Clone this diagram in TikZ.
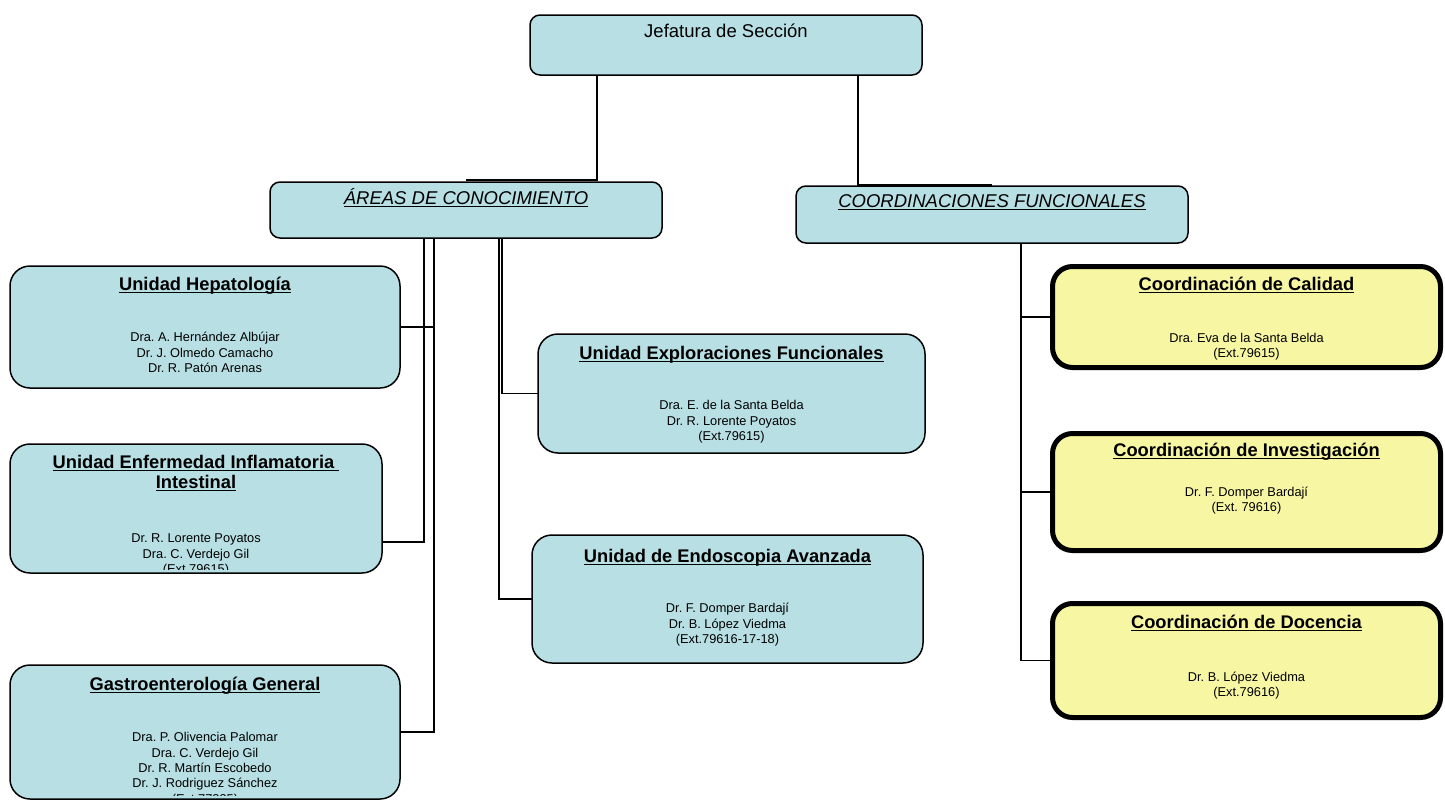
\documentclass[tikz,border=0pt]{standalone}
\usepackage{fontspec}
\setmainfont{Liberation Sans}
\usetikzlibrary{calc}
\frenchspacing
\definecolor{boxblue}{RGB}{184,224,228}
\definecolor{boxyellow}{RGB}{247,246,163}
\newcommand*{\undl}[1]
  {\setbox0\hbox{#1}\rlap{\rule[-2.8pt]{\wd0}{1.3pt}}\box0}
\newcommand*{\headfont}{\fontsize{18.5}{20.5}\selectfont}
\newcommand*{\titlefont}{\fontsize{18.3}{20.5}\selectfont\bfseries}
\newcommand*{\namefont}{\fontsize{12.8}{15.3}\selectfont}
\tikzset{
  headbox/.style={draw,line width=1.5pt,fill=boxblue,rounded corners=10pt,inner sep=0pt,outer sep=0pt},
  unitbox/.style={draw,line width=1.5pt,fill=boxblue,rounded corners=20pt,inner sep=0pt,outer sep=0pt},
  coordbox/.style={draw,line width=5pt,fill=boxyellow,rounded corners=20pt,inner sep=0pt,outer sep=0pt},
  headtext/.style={anchor=base,inner sep=0pt,font=\headfont},
  unittitle/.style={anchor=base,inner sep=0pt,font=\titlefont},
  names/.style={anchor=north,inner sep=0pt,align=center,font=\namefont},
  link/.style={line width=1.5pt}
}

\begin{document}
\begin{tikzpicture}[x=1pt,y=-1pt]
\useasboundingbox (0,0) rectangle (1445,803);
% top level
\node[headbox,minimum width=392pt,minimum height=60pt] (jef) at (726,45) {};
\node[headtext] (jeft) at ($(jef.north)+(0,22)$) {Jefatura de Sección};
\node[headbox,minimum width=392pt,minimum height=56pt] (areas) at (466,210) {};
\node[headtext,font=\headfont\itshape] (areast) at ($(areas.north)+(0,22)$) {\undl{ÁREAS DE CONOCIMIENTO}};
\node[headbox,minimum width=392pt,minimum height=57pt] (coord) at (992,214.5) {};
\node[headtext,font=\headfont\itshape] (coordt) at ($(coord.north)+(0,21)$) {\undl{COORDINACIONES FUNCIONALES}};
% areas de conocimiento
\node[unitbox,minimum width=390pt,minimum height=122pt] (hep) at (205,327) {};
\node[unittitle] (hept) at ($(hep.north)+(0,24)$) {\undl{Unidad Hepatología}};
\node[names] (hepn) at ($(hep.north)+(0,65)$) {\strut Dra. A. Hernández Albújar\\Dr. J. Olmedo Camacho\\Dr. R. Patón Arenas};
\node[unitbox,minimum width=372pt,minimum height=129pt] (enf) at (196,508.5) {};
\node[names,font=\titlefont] (enft) at ($(enf.north)+(0,9.6)$) {\strut\undl{Unidad Enfermedad Inflamatoria }\\\undl{Intestinal}};
\begin{scope}
\clip ($(enf.south west)+(0,-4)$) rectangle (enf.north east);
\node[names] (enfn) at ($(enf.north)+(0,88)$) {\strut Dr. R. Lorente Poyatos\\Dra. C. Verdejo Gil\\(Ext.79615)};
\end{scope}
\node[unitbox,minimum width=390pt,minimum height=134pt] (gas) at (205,732) {};
\node[unittitle] (gast) at ($(gas.north)+(0,25)$) {\undl{Gastroenterología General}};
\begin{scope}
\clip ($(gas.south west)+(0,-4)$) rectangle (gas.north east);
\node[names] (gasn) at ($(gas.north)+(0,66)$) {\strut Dra. P. Olivencia Palomar\\Dra. C. Verdejo Gil\\Dr. R. Martín Escobedo\\Dr. J. Rodriguez Sánchez\\(Ext.77235)};
\end{scope}
\node[unitbox,minimum width=387pt,minimum height=119pt] (exp) at (731.5,393.5) {};
\node[unittitle] (expt) at ($(exp.north)+(0,25)$) {\undl{Unidad Exploraciones Funcionales}};
\node[names] (expn) at ($(exp.north)+(0,65)$) {\strut Dra. E. de la Santa Belda\\Dr. R. Lorente Poyatos\\(Ext.79615)};
\node[unitbox,minimum width=391pt,minimum height=128pt] (endo) at (727.5,599) {};
\node[unittitle] (endot) at ($(endo.north)+(0,27)$) {\undl{Unidad de Endoscopia Avanzada}};
\node[names] (endon) at ($(endo.north)+(0,67)$) {\strut Dr. F. Domper Bardají\\Dr. B. López Viedma\\(Ext.79616-17-18)};
% coordinaciones
\node[coordbox,minimum width=388pt,minimum height=101pt] (cal) at (1246.5,317) {};
\node[unittitle] (calt) at ($(cal.north)+(0,23.5)$) {\undl{Coordinación de Calidad}};
\node[names] (caln) at ($(cal.north)+(0,65)$) {\strut Dra. Eva de la Santa Belda\\(Ext.79615)};
\node[coordbox,minimum width=388pt,minimum height=117pt] (inv) at (1246.5,492) {};
\node[unittitle] (invt) at ($(inv.north)+(0,22.5)$) {\undl{Coordinación de Investigación}};
\node[names] (invn) at ($(inv.north)+(0,52)$) {\strut Dr. F. Domper Bardají\\(Ext. 79616)};
\node[coordbox,minimum width=388pt,minimum height=114pt] (doc) at (1246.5,660.5) {};
\node[unittitle] (doct) at ($(doc.north)+(0,24.5)$) {\undl{Coordinación de Docencia}};
\node[names] (docn) at ($(doc.north)+(0,67)$) {\strut Dr. B. López Viedma\\(Ext.79616)};
% connectors
\draw[link] ($(jef.south west)+(67,0)$) |- ($(areas.north)+(0,-2)$);
\draw[link] ($(jef.south west)+(328,0)$) |- ($(coord.north)+(0,-1)$);
\draw[link] ($(areas.south west)+(154,0)$) |- ($(enf.south east)+(0,-31)$);
\draw[link] ($(areas.south west)+(164,0)$) |- (hep.east);
\draw[link] ($(areas.south west)+(164,0)$) |- (gas.east);
\draw[link] ($(areas.south west)+(232,0)$) |- (exp.west);
\draw[link] ($(areas.south west)+(229,0)$) |- (endo.west);
\foreach \c in {cal,inv,doc}
  \draw[link] ($(coord.south west)+(225,0)$) |- (\c.west);
\end{tikzpicture}
\end{document}
